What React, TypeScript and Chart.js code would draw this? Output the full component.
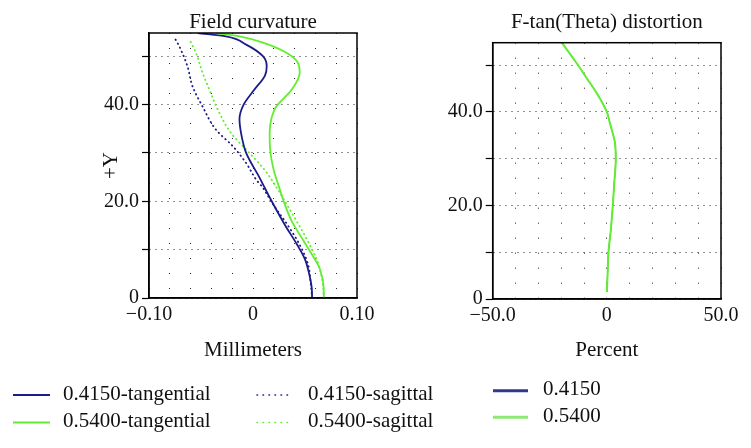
import React, { useEffect, useRef } from 'react';
import { Chart, registerables } from 'chart.js';
Chart.register(...registerables);

const FONT = "'Liberation Serif', 'Times New Roman', serif";
const BLUE = '#1c1c88';
const GREEN = '#62ee30';
const BLUE_LEG = '#2e3a8e';
const GREEN_LEG = '#8ee874';
const INK = '#111111';
const GRID = 'rgba(0,0,0,0.85)';

// ---------- Field curvature (x: millimeters, y: +Y field) ----------
const fcLabels = ['0.4150-tangential', '0.4150-sagittal', '0.5400-tangential', '0.5400-sagittal'];

const blueTanY = [0, 2, 5, 8, 11, 15, 20, 25, 30, 34, 37, 40, 43, 46, 48, 50, 52.4, 54.1, 54.8];
const blueTanX = [0.0568, 0.0565, 0.054, 0.05, 0.0425, 0.031, 0.018, 0.006, -0.0066, -0.0114, -0.013, -0.009, 0.001, 0.0115, 0.0132, 0.0095, -0.0066, -0.026, -0.053];

const blueSagY = [0, 3, 6.9, 11, 15.5, 17.9, 20.5, 22.8, 24.5, 27.9, 31.4, 34.8, 39.6, 43.8, 47.9, 52.1, 53.6];
const blueSagX = [0.0568, 0.0555, 0.053, 0.0449, 0.032, 0.024, 0.016, 0.0095, 0.003, -0.0066, -0.0195, -0.0356, -0.0485, -0.0582, -0.063, -0.071, -0.0749];

const greenTanY = [0, 2, 6, 8.6, 12, 16, 20, 23, 26, 28.6, 31, 34, 37, 39.6, 43, 46.6, 48.6, 50.7, 52.8, 54.1, 54.8];
const greenTanX = [0.0681, 0.068, 0.0643, 0.0578, 0.0481, 0.037, 0.0295, 0.025, 0.0205, 0.0178, 0.0164, 0.016, 0.0176, 0.0224, 0.0369, 0.0449, 0.0433, 0.0321, 0.0095, -0.013, -0.0356];

const greenSagY = [0, 3, 7.2, 11, 14.8, 18.3, 22.4, 26.5, 30.7, 34.1, 38.3, 43.1, 46.6, 50.7, 53.6];
const greenSagX = [0.0681, 0.067, 0.0626, 0.0546, 0.0449, 0.0353, 0.024, 0.0111, -0.0066, -0.0211, -0.0324, -0.042, -0.0485, -0.0549, -0.0614];

const fcXTicks = [-0.1, -0.08, -0.06, -0.04, -0.02, 0, 0.02, 0.04, 0.06, 0.08, 0.1];
const fcXTickLabels = ['\u22120.10', '', '', '', '', '0', '', '', '', '', '0.10'];
const yTicks = [0, 10, 20, 30, 40, 50];
const yTickLabels = ['0', '', '20.0', '', '40.0', ''];
const yMax = 54.8;

// ---------- F-tan(Theta) distortion (x: percent) ----------
const distLabels = ['0.4150', '0.5400'];
const distY = [1.5, 5, 10, 14.8, 20, 25.5, 29.7, 33.3, 35.4, 37.5, 40, 44, 47.2, 50.4, 54.8];
const blueDistX = [0, 0.3, 0.7, 1.75, 2.6, 3.35, 3.9, 3.6, 2.6, 1.4, 0, -4.4, -8.8, -13.2, -19.7];
const greenDistX = [0, 0.3, 0.7, 1.75, 2.6, 3.35, 3.9, 3.6, 2.6, 1.4, 0, -4.4, -8.8, -13.2, -19.7];

const distXTicks = [-50, -40, -30, -20, -10, 0, 10, 20, 30, 40, 50];
const distXTickLabels = ['\u221250.0', '', '', '', '', '0', '', '', '', '', '50.0'];

const pts = (xs: number[], ys: number[]) => xs.map((x, i) => ({ x, y: ys[i] }));

const framePlugin = {
  id: 'frame',
  afterDraw(chart: any) {
    const { ctx, chartArea: a } = chart;
    ctx.save();
    ctx.strokeStyle = '#000';
    ctx.lineWidth = 1.5;
    ctx.setLineDash([]);
    ctx.strokeRect(a.left, a.top, a.right - a.left, a.bottom - a.top);
    ctx.restore();
  },
};

type LegPos = { x: number; len: number; y: number; tx: number; lw: number; color: string; dotted: boolean };
const makeLegend = (layout: LegPos[]) => ({
  id: 'customLegend',
  afterDraw(chart: any) {
    const ctx = chart.ctx;
    chart.data.datasets.forEach((ds: any, i: number) => {
      const p = layout[i];
      if (!p) return;
      ctx.save();
      ctx.strokeStyle = p.color;
      ctx.lineWidth = p.lw;
      ctx.lineCap = p.dotted ? 'round' : 'butt';
      ctx.setLineDash(p.dotted ? [0.5, 5.5] : []);
      ctx.beginPath();
      ctx.moveTo(p.x, p.y);
      ctx.lineTo(p.x + p.len, p.y);
      ctx.stroke();
      ctx.setLineDash([]);
      ctx.fillStyle = INK;
      ctx.font = `21px ${FONT}`;
      ctx.textBaseline = 'middle';
      ctx.textAlign = 'left';
      ctx.fillText(ds.label, p.tx, p.y - 1);
      ctx.restore();
    });
  },
});

function yScale(width: number, withTitle: boolean) {
  return {
    type: 'linear',
    position: 'left',
    min: 0,
    max: yMax,
    afterBuildTicks: (s: any) => {
      s.ticks = yTicks.map((v) => ({ value: v }));
    },
    afterFit: (s: any) => {
      s.width = width;
    },
    ticks: {
      color: INK,
      font: { family: FONT, size: 20 },
      padding: 3,
      callback: (_v: any, i: number) => yTickLabels[i],
    },
    grid: {
      color: GRID,
      lineWidth: 1,
      drawTicks: true,
      tickLength: 7,
      tickColor: '#000',
      tickWidth: 1.2,
      tickBorderDash: [],
    },
    border: { display: true, color: '#000', width: 1.5, dash: [1, 5] },
    title: {
      display: withTitle,
      text: '+Y',
      color: INK,
      font: { family: FONT, size: 21, lineHeight: 1 },
      padding: { top: 101, bottom: 0 },
    },
  };
}

function xScale(min: number, max: number, ticks: number[], labels: string[], title: string, titlePad: number) {
  return {
    type: 'linear',
    position: 'bottom',
    min,
    max,
    afterBuildTicks: (s: any) => {
      s.ticks = ticks.map((v) => ({ value: v }));
    },
    afterFit: (s: any) => {
      s.height = 70;
    },
    ticks: {
      color: INK,
      font: { family: FONT, size: 20 },
      padding: 5,
      maxRotation: 0,
      autoSkip: false,
      callback: (_v: any, i: number) => labels[i],
    },
    grid: { color: GRID, lineWidth: 1, drawTicks: false },
    border: { display: true, color: '#000', width: 1.5, dash: [1, 14] },
    title: {
      display: true,
      text: title,
      color: INK,
      font: { family: FONT, size: 21, lineHeight: 1 },
      padding: { top: 0, bottom: titlePad },
    },
  };
}

export default function App() {
  const leftRef = useRef<HTMLCanvasElement>(null);
  const rightRef = useRef<HTMLCanvasElement>(null);

  useEffect(() => {
    const solid = (label: string, data: any[], color: string, order: number, width = 1.8) => ({
      label,
      data,
      order,
      showLine: true,
      borderColor: color,
      backgroundColor: color,
      borderWidth: width,
      pointRadius: 0,
      cubicInterpolationMode: 'monotone',
      fill: false,
    });
    const dotted = (label: string, data: any[], color: string, order: number) => ({
      ...solid(label, data, color, order),
      borderWidth: 1.8,
      borderDash: [0.5, 4],
      borderCapStyle: 'round',
    });

    const left = new Chart(leftRef.current as HTMLCanvasElement, {
      type: 'scatter',
      data: {
        datasets: [
          solid(fcLabels[0], pts(blueTanX, blueTanY), BLUE, 1),
          dotted(fcLabels[1], pts(blueSagX, blueSagY), BLUE, 3),
          solid(fcLabels[2], pts(greenTanX, greenTanY), GREEN, 0),
          dotted(fcLabels[3], pts(greenSagX, greenSagY), GREEN, 2),
        ] as any,
      },
      options: {
        indexAxis: 'y',
        responsive: false,
        animation: false,
        devicePixelRatio: 1,
        layout: { padding: { left: 0, right: 394, top: 0, bottom: 80 } },
        plugins: {
          legend: { display: false },
          tooltip: { enabled: false },
          title: {
            display: true,
            text: 'Field curvature',
            fullSize: false,
            color: INK,
            font: { family: FONT, size: 21, weight: 'normal', lineHeight: 1 },
            padding: { top: 12, bottom: 0 },
          },
        },
        scales: {
          x: xScale(-0.1, 0.1, fcXTicks, fcXTickLabels, 'Millimeters', 7.5) as any,
          y: yScale(149, true) as any,
        },
      } as any,
      plugins: [
        framePlugin,
        makeLegend([
          { x: 13, len: 37, y: 395, tx: 63, lw: 2, color: BLUE, dotted: false },
          { x: 257, len: 35, y: 395, tx: 308, lw: 1.6, color: BLUE, dotted: true },
          { x: 13, len: 37, y: 422.5, tx: 63, lw: 2, color: GREEN, dotted: false },
          { x: 257, len: 35, y: 422.5, tx: 308, lw: 1.6, color: GREEN, dotted: true },
        ]),
      ],
    });

    const right = new Chart(rightRef.current as HTMLCanvasElement, {
      type: 'scatter',
      data: {
        datasets: [
          solid(distLabels[0], pts(blueDistX, distY), BLUE, 1, 1),
          solid(distLabels[1], pts(greenDistX, distY), GREEN, 0, 2),
        ] as any,
      },
      options: {
        indexAxis: 'y',
        responsive: false,
        animation: false,
        devicePixelRatio: 1,
        layout: { padding: { left: 420, right: 30, top: 0, bottom: 79 } },
        plugins: {
          legend: { display: false },
          tooltip: { enabled: false },
          title: {
            display: true,
            text: 'F-tan(Theta) distortion',
            fullSize: false,
            color: INK,
            font: { family: FONT, size: 21, weight: 'normal', lineHeight: 1 },
            padding: { top: 12, bottom: 9.7 },
          },
        },
        scales: {
          x: xScale(-50, 50, distXTicks, distXTickLabels, 'Percent', 8.5) as any,
          y: yScale(72.7, false) as any,
        },
      } as any,
      plugins: [
        framePlugin,
        makeLegend([
          { x: 493, len: 35, y: 390.7, tx: 543, lw: 3, color: BLUE_LEG, dotted: false },
          { x: 493, len: 35, y: 417.3, tx: 543, lw: 3, color: GREEN_LEG, dotted: false },
        ]),
      ],
    });

    return () => {
      left.destroy();
      right.destroy();
    };
  }, []);

  const cstyle: React.CSSProperties = { position: 'absolute', left: 0, top: 0, width: 751, height: 448 };
  return (
    <div style={{ position: 'absolute', left: 0, top: 0, width: 751, height: 448, background: '#fff' }}>
      <canvas ref={leftRef} width={751} height={448} style={cstyle} />
      <canvas ref={rightRef} width={751} height={448} style={cstyle} />
    </div>
  );
}
